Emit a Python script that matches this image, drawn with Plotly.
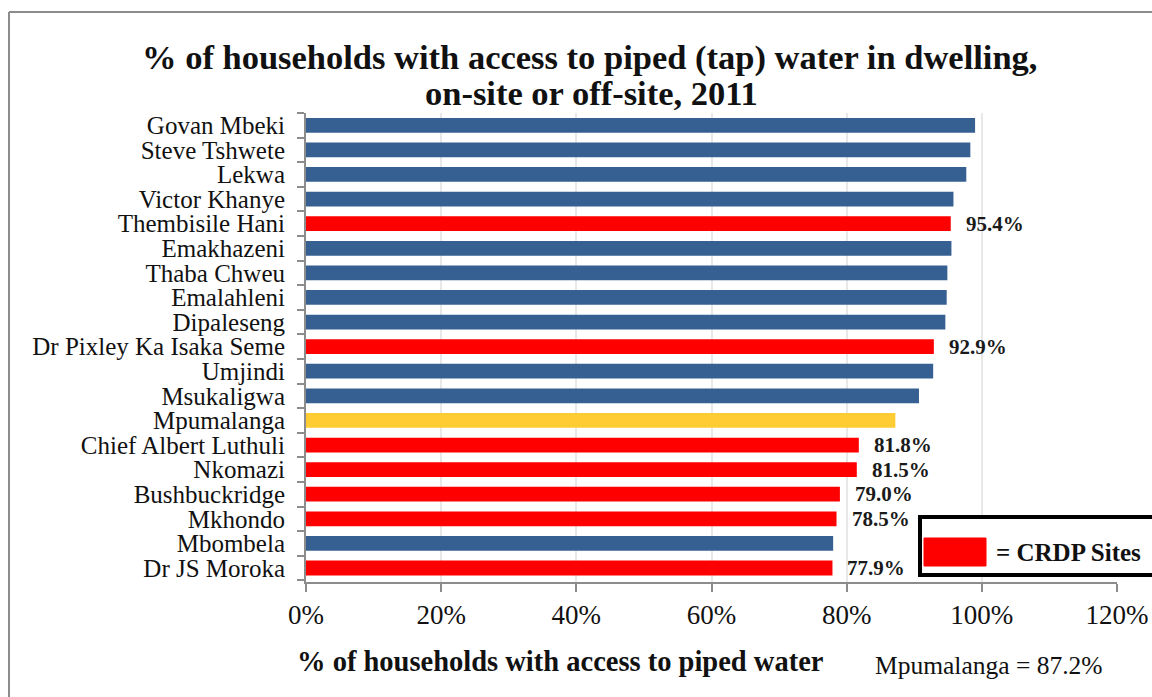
import plotly.graph_objects as go

categories = ["Govan Mbeki", "Steve Tshwete", "Lekwa", "Victor Khanye", "Thembisile Hani",
              "Emakhazeni", "Thaba Chweu", "Emalahleni", "Dipaleseng", "Dr Pixley Ka Isaka Seme",
              "Umjindi", "Msukaligwa", "Mpumalanga", "Chief Albert Luthuli", "Nkomazi",
              "Bushbuckridge", "Mkhondo", "Mbombela", "Dr JS Moroka"]
values = [99.0, 98.3, 97.7, 95.8, 95.4, 95.5, 94.9, 94.8, 94.6, 92.9,
          92.8, 90.7, 87.2, 81.8, 81.5, 79.0, 78.5, 78.0, 77.9]
group = ["other", "other", "other", "other", "crdp", "other", "other", "other", "other", "crdp",
         "other", "other", "province", "crdp", "crdp", "crdp", "crdp", "other", "crdp"]
x_ticks = [0, 20, 40, 60, 80, 100, 120]

palette = {"other": "#376092", "crdp": "#FF0000", "province": "#FFCC33"}
colors = [palette[g] for g in group]

SERIF = "Liberation Serif"
W, H = 1152, 697
L, R, T, B = 306, 35, 113, 115
pw, ph = W - L - R, H - T - B

def px(x):
    return (x - L) / pw

def py(y):
    return (H - B - y) / ph

fig = go.Figure()
fig.add_trace(go.Bar(
    x=values, y=categories, orientation="h",
    marker=dict(color=colors, line=dict(width=0)),
    width=0.6, showlegend=False, hoverinfo="x+y",
))

annotations = []
for c, v, g in zip(categories, values, group):
    if g == "crdp":
        annotations.append(dict(x=v, y=c, xref="x", yref="y", text=f"<b>{v:.1f}%</b>",
                                showarrow=False, xanchor="left", yanchor="middle", xshift=13,
                                font=dict(family=SERIF, size=21, color="#1a1a1a")))

# title (two lines)
annotations.append(dict(x=px(589), y=py(57), xref="paper", yref="paper",
                        text="<b>% of households with access to piped (tap) water in dwelling,</b>",
                        showarrow=False, xanchor="center", yanchor="middle",
                        font=dict(family=SERIF, size=34.5, color="#111111")))
annotations.append(dict(x=px(591), y=py(93), xref="paper", yref="paper",
                        text="<b>on-site or off-site, 2011</b>",
                        showarrow=False, xanchor="center", yanchor="middle",
                        font=dict(family=SERIF, size=34.5, color="#111111")))

annotations.append(dict(x=px(295), y=py(661), xref="paper", yref="paper",
                        text="<b>% of households with access to piped water</b>", showarrow=False,
                        xanchor="left", yanchor="middle",
                        font=dict(family=SERIF, size=28.5, color="#111111")))
annotations.append(dict(x=px(873), y=py(665), xref="paper", yref="paper",
                        text="Mpumalanga = 87.2%", showarrow=False,
                        xanchor="left", yanchor="middle",
                        font=dict(family=SERIF, size=25.5, color="#111111")))
annotations.append(dict(x=px(994), y=py(552), xref="paper", yref="paper",
                        text="<b>= CRDP Sites</b>", showarrow=False,
                        xanchor="left", yanchor="middle",
                        font=dict(family=SERIF, size=25, color="#111111")))

shapes = [
    # outer frame
    dict(type="line", xref="paper", yref="paper", x0=px(9), x1=px(9), y0=py(12), y1=py(700),
         line=dict(color="#8c8c8c", width=2)),
    dict(type="line", xref="paper", yref="paper", x0=px(9), x1=px(1155), y0=py(12), y1=py(12),
         line=dict(color="#8c8c8c", width=2)),
    # legend box
    dict(type="rect", xref="paper", yref="paper", x0=px(920), x1=px(1165), y0=py(575), y1=py(517),
         line=dict(color="#000000", width=4), fillcolor="white", layer="above"),
    dict(type="rect", xref="paper", yref="paper", x0=px(924), x1=px(986), y0=py(566), y1=py(538),
         line=dict(color="#FF0000", width=1), fillcolor="#FF0000", layer="above"),
]

fig.update_layout(
    width=W, height=H,
    margin=dict(l=L, r=R, t=T, b=B, autoexpand=False),
    paper_bgcolor="white", plot_bgcolor="white",
    xaxis=dict(range=[0, 120], tickvals=x_ticks, ticktext=[f"{t}%" for t in x_ticks],
               showgrid=True, gridcolor="#e8e8e8", gridwidth=2,
               showline=True, linecolor="#8c8c8c", linewidth=2,
               ticks="outside", ticklen=8, tickcolor="#8c8c8c", tickwidth=2,
               tickfont=dict(family=SERIF, size=27, color="#111111"), zeroline=False,
               fixedrange=True, automargin=False),
    yaxis=dict(categoryorder="array", categoryarray=categories, autorange="reversed",
               tickmode="array", tickvals=categories, ticktext=categories,
               showline=True, linecolor="#8c8c8c", linewidth=2,
               ticks="outside", ticklen=7, tickcolor="#8c8c8c", tickwidth=2,
               tickson="boundaries", ticklabelstandoff=14,
               tickfont=dict(family=SERIF, size=25, color="#111111"), showgrid=False,
               automargin=False),
    annotations=annotations, shapes=shapes,
    bargap=0.4,
)

fig.write_html("out.html")
